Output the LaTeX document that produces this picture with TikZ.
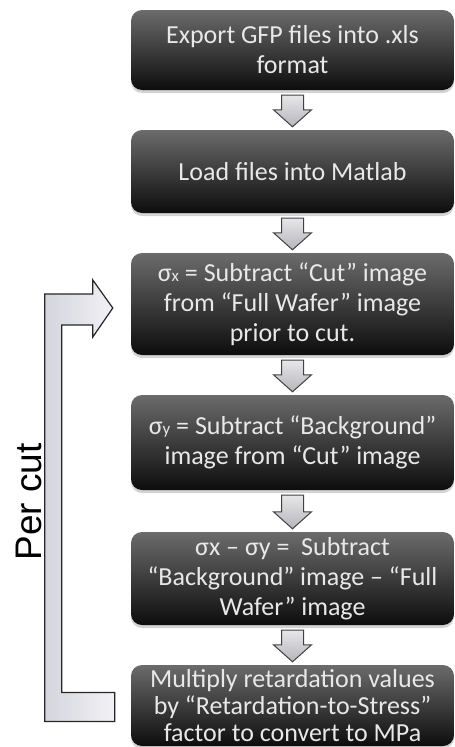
\documentclass[tikz,border=0pt]{standalone}
\usepackage{fontspec}
\setmainfont{Carlito}
\newfontfamily\arialfont{Liberation Sans}
\usetikzlibrary{calc,shadows}

\definecolor{boxtop}{rgb}{0.42,0.42,0.42}
\definecolor{boxbot}{rgb}{0.05,0.05,0.05}
\definecolor{boxtext}{rgb}{0.91,0.91,0.91}
\definecolor{arrowfill}{rgb}{0.84,0.84,0.86}
\definecolor{arrowline}{rgb}{0.25,0.25,0.25}
\definecolor{loopfill}{rgb}{0.87,0.87,0.91}

\tikzset{
  stepbox/.style={rectangle, rounded corners=11pt, inner sep=0pt,
    minimum width=323pt, top color=boxtop, bottom color=boxbot,
    text=boxtext, align=center, font=\fontsize{26}{30}\selectfont,
    drop shadow={shadow xshift=0pt, shadow yshift=-3pt, opacity=0.35}},
  downarrow/.style={draw=arrowline, line width=1pt, line join=miter,
    top color=arrowfill!60!white, bottom color=arrowfill!85!black},
  looparrow/.style={draw=black!85, line width=1.2pt, line join=miter,
    left color=loopfill!90!gray, right color=loopfill!40!white},
}

% block arrow pointing down from one step box to the next
\newcommand{\stepdown}[2]{%
  \draw[downarrow] let \p1=(#1.south), \p2=(#2.north) in
    (\x1-11pt,\y1-5pt) -- (\x1+11pt,\y1-5pt) -- (\x1+11pt,\y2+20pt)
    -- (\x1+19pt,\y2+20pt) -- (\x1,\y2+3pt) -- (\x1-19pt,\y2+20pt)
    -- (\x1-11pt,\y2+20pt) -- cycle;}

\newcommand{\smallsub}[1]{{\fontsize{17}{17}\selectfont #1}}

\begin{document}
\begin{tikzpicture}[x=1pt,y=1pt]
  \useasboundingbox (0,0) rectangle (455,-747);

  \node[stepbox, minimum height=80pt] (b1) at (292.5,-50)
    {Export GFP files into .xls\\format};
  \node[stepbox, minimum height=83pt] (b2) at (292.5,-171.5)
    {Load files into Matlab};
  \node[stepbox, minimum height=102pt] (b3) at (292.5,-304)
    {σ\smallsub{x} = Subtract “Cut” image\\from “Full Wafer” image\\prior to cut.};
  \node[stepbox, minimum height=95pt] (b4) at (292.5,-442.5)
    {σ\smallsub{y} = Subtract “Background”\\image from “Cut” image};
  \node[stepbox, minimum height=93pt] (b5) at (292.5,-578.5)
    {σx – σy =\ \ Subtract\\“Background” image – “Full\\Wafer” image};
  \node[stepbox, minimum height=81pt, font=\fontsize{26}{27}\selectfont] (b6) at (292.5,-705.5)
    {Multiply retardation values\\by “Retardation-to-Stress”\\factor to convert to MPa};

  \stepdown{b1}{b2}
  \stepdown{b2}{b3}
  \stepdown{b3}{b4}
  \stepdown{b4}{b5}
  \stepdown{b5}{b6}

  % feedback loop: from the last step back to the first per-cut step
  \draw[looparrow] let \p1=(b3.west), \p2=(b6.west) in
    (\x1-86pt,\y1+10pt) -- (\x1-38pt,\y1+10pt) -- (\x1-38pt,\y1+24pt)
    -- (\x1-18pt,\y1-4pt) -- (\x1-38pt,\y1-33pt) -- (\x1-38pt,\y1-21pt)
    -- (\x1-69pt,\y1-21pt) -- (\x2-69pt,\y2+13pt) -- (\x2-16pt,\y2+13pt)
    -- (\x2-16pt,\y2-16pt) -- (\x1-86pt,\y2-16pt) -- cycle;

  \node[rotate=90, font=\arialfont\fontsize{37}{37}\selectfont, inner sep=0pt]
    (percut) at (29,-502) {Per cut};
\end{tikzpicture}
\end{document}
